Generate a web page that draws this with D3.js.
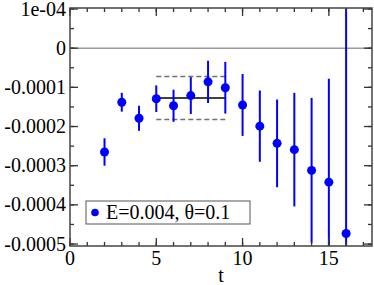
<!DOCTYPE html>
<html>
<head>
<meta charset="utf-8">
<script src="https://cdn.jsdelivr.net/npm/d3@7"></script>
<style>
    body { margin: 0; background: #fff; }
</style>
</head>
<body>
<svg></svg>
<script>
// data
var times = [2, 3, 4, 5, 6, 7, 8, 9, 10, 11, 12, 13, 14, 15, 16];
var values = [-0.000265, -0.000138, -0.000179, -0.000129, -0.000147, -0.000121, -0.000086,
    -0.000101, -0.000145, -0.000199, -0.000243, -0.000259, -0.000312, -0.000342, -0.000473];
var errors = [0.000035, 0.000024, 0.000032, 0.000034, 0.000041, 0.000047, 0.000054,
    0.000066, 0.000079, 0.000091, 0.000112, 0.000145, 0.000185, 0.000264, 0.00065];
var fitRange = [5, 9];
var fitValue = -0.000127;
var fitError = 0.000055;
var xTicks = [0, 5, 10, 15];
var yTicks = [0.0001, 0, -0.0001, -0.0002, -0.0003, -0.0004, -0.0005];
var yTickLabels = ["1e-04", "0", "-0.0001", "-0.0002", "-0.0003", "-0.0004", "-0.0005"];
var legendLabel = "E=0.004, θ=0.1";

var margin = {
        top: 8,
        right: 2,
        bottom: 39,
        left: 70
    },
    width = 374 - margin.left - margin.right,
    height = 285 - margin.top - margin.bottom;

var x = d3.scaleLinear().domain([0, 17.5]).range([0, width]),
    y = d3.scaleLinear().domain([-0.000505, 0.0001]).range([height, 1]);

var svg = d3.select("svg")
    .attr("width", 374)
    .attr("height", 285)
    .attr("font-family", "Liberation Serif")
    .append("g")
    .attr("transform", "translate(" + margin.left + "," + margin.top + ")");

svg.append("clipPath")
    .attr("id", "clip")
    .append("rect")
    .attr("width", width)
    .attr("height", height);

// zero line
svg.append("line")
    .attr("x1", 0)
    .attr("x2", width)
    .attr("y1", y(0))
    .attr("y2", y(0))
    .attr("stroke", "#9a9a9a")
    .attr("stroke-width", 1.5);

// fit band
var band = [fitValue + fitError, fitValue - fitError];
svg.selectAll(".band")
    .data(band)
    .enter().append("line")
    .attr("class", "band")
    .attr("x1", x(fitRange[0]))
    .attr("x2", x(fitRange[1]))
    .attr("y1", function(d) { return y(d); })
    .attr("y2", function(d) { return y(d); })
    .attr("stroke", "#707070")
    .attr("stroke-width", 1.5)
    .attr("stroke-dasharray", "5,3");

svg.append("line")
    .attr("x1", x(fitRange[0]))
    .attr("x2", x(fitRange[1]))
    .attr("y1", y(fitValue))
    .attr("y2", y(fitValue))
    .attr("stroke", "#000")
    .attr("stroke-width", 1.5);

var points = times.map(function(t, i) {
    return { t: t, v: values[i], e: errors[i] };
});

var plot = svg.append("g").attr("clip-path", "url(#clip)");

plot.selectAll(".err")
    .data(points)
    .enter().append("line")
    .attr("class", "err")
    .attr("x1", function(d) { return x(d.t); })
    .attr("x2", function(d) { return x(d.t); })
    .attr("y1", function(d) { return y(d.v + d.e); })
    .attr("y2", function(d) { return y(d.v - d.e); })
    .attr("stroke", "#0000ff")
    .attr("stroke-width", 2);

plot.selectAll(".pt")
    .data(points)
    .enter().append("circle")
    .attr("class", "pt")
    .attr("cx", function(d) { return x(d.t); })
    .attr("cy", function(d) { return y(d.v); })
    .attr("r", 4.5)
    .attr("fill", "#0000ff");

// frame and ticks on all sides
var minorX = d3.range(0, 18, 1),
    minorY = d3.range(-0.0005, 0.00011, 0.00005);

function tickLines(cls, data, isX, pos, dir, len) {
    svg.selectAll("." + cls)
        .data(data)
        .enter().append("line")
        .attr("class", cls)
        .attr("x1", function(d) { return isX ? x(d) : pos; })
        .attr("x2", function(d) { return isX ? x(d) : pos + dir * len; })
        .attr("y1", function(d) { return isX ? pos : y(d); })
        .attr("y2", function(d) { return isX ? pos + dir * len : y(d); })
        .attr("stroke", "#333")
        .attr("stroke-width", 1.3);
}

tickLines("xminb", minorX, true, height, -1, 4);
tickLines("xmajb", xTicks, true, height, -1, 8);
tickLines("xmint", minorX, true, 0, 1, 4);
tickLines("xmajt", xTicks, true, 0, 1, 8);
tickLines("yminl", minorY, false, 0, 1, 4);
tickLines("ymajl", yTicks, false, 0, 1, 8);
tickLines("yminr", minorY, false, width, -1, 4);
tickLines("ymajr", yTicks, false, width, -1, 8);

svg.append("rect")
    .attr("width", width)
    .attr("height", height)
    .attr("fill", "none")
    .attr("stroke", "#444")
    .attr("stroke-width", 1.5);

svg.selectAll(".xlab")
    .data(xTicks)
    .enter().append("text")
    .attr("class", "xlab")
    .attr("x", function(d) { return x(d); })
    .attr("y", height + 19)
    .attr("text-anchor", "middle")
    .attr("font-size", 20)
    .text(function(d) { return d; });

svg.selectAll(".ylab")
    .data(yTicks)
    .enter().append("text")
    .attr("class", "ylab")
    .attr("x", -4)
    .attr("y", function(d) { return y(d); })
    .attr("dy", ".33em")
    .attr("text-anchor", "end")
    .attr("font-size", 20)
    .text(function(d, i) { return yTickLabels[i]; });

svg.append("text")
    .attr("x", width / 2)
    .attr("y", height + 36)
    .attr("text-anchor", "middle")
    .attr("font-size", 20)
    .text("t");

// legend
var legend = svg.append("g")
    .attr("transform", "translate(" + (86 - margin.left) + "," + (201 - margin.top) + ")");

legend.append("rect")
    .attr("width", 164)
    .attr("height", 23)
    .attr("fill", "#fff")
    .attr("stroke", "#555")
    .attr("stroke-width", 1);

legend.append("circle")
    .attr("cx", 9)
    .attr("cy", 11.5)
    .attr("r", 3.8)
    .attr("fill", "#0000ff");

legend.append("text")
    .attr("x", 20)
    .attr("y", 11.5)
    .attr("dy", ".33em")
    .attr("font-size", 20)
    .text(legendLabel);
</script>
</body>
</html>
